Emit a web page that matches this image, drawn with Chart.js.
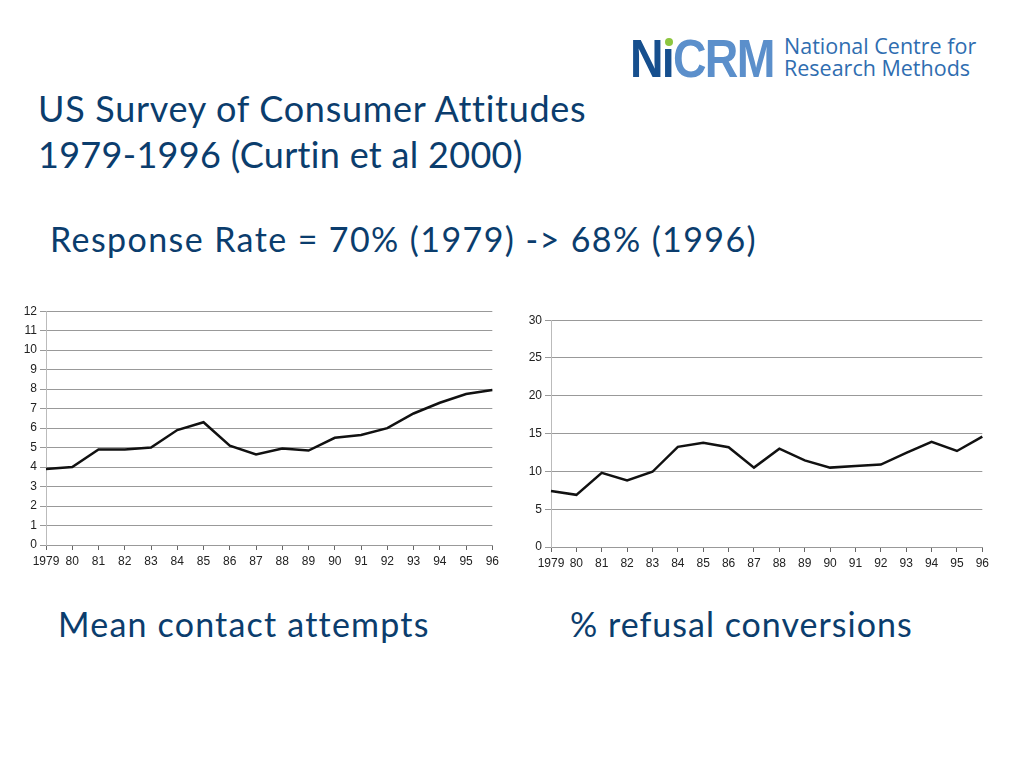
<!DOCTYPE html>
<html>
<head>
<meta charset="utf-8">
<script src="https://cdn.jsdelivr.net/npm/chart.js@4/dist/chart.umd.min.js"></script>
<style>
  html, body { margin: 0; padding: 0; background: #fff; }
  body { width: 1024px; height: 768px; position: relative; overflow: hidden; font-family: Lato, "Open Sans", sans-serif; }
  .txt { position: absolute; color: #0b3d6d; white-space: nowrap; line-height: 1; }
  .box { position: absolute; }
  .logo { position: absolute; left: 630px; top: 31px; width: 380px; height: 60px; }
  .logo .big { position: absolute; left: 0; top: 0; font: bold 54px "Liberation Sans", Arial, sans-serif; letter-spacing: -2px; line-height: 1; transform: scaleX(0.86); transform-origin: 0 0; white-space: nowrap; }
  .logo .small { position: absolute; left: 154px; top: 4px; font: 21.5px "Open Sans", sans-serif; color: #2f6db0; line-height: 22px; white-space: nowrap; }
</style>
</head>
<body>

<div class="logo">
  <div class="big"><span style="color:#164f8e">Nı</span><span style="color:#5b8fcb">CRM</span></div>
  <div style="position:absolute;left:35px;top:7px;width:8px;height:8px;border-radius:50%;background:#8dc63f"></div>
  <div class="small">National Centre for<br>Research Methods</div>
</div>

<div class="txt" style="left:38px;top:90px;font-size:36px;letter-spacing:0.7px">US Survey of Consumer Attitudes</div>
<div class="txt" style="left:38px;top:136px;font-size:36px;letter-spacing:0.3px">1979-1996 (Curtin et al 2000)</div>
<div class="txt" style="left:50px;top:222px;font-size:34px;letter-spacing:1.4px">Response Rate = 70% (1979) -&gt; 68% (1996)</div>
<div class="txt" style="left:58px;top:607px;font-size:34px;letter-spacing:1.2px">Mean contact attempts</div>
<div class="txt" style="left:570px;top:607px;font-size:34px;letter-spacing:1px">% refusal conversions</div>

<div class="box" style="left:20px;top:301px;width:483px;height:274px"><canvas id="left"></canvas></div>
<div class="box" style="left:525px;top:310px;width:468px;height:267px"><canvas id="right"></canvas></div>

<script>
// year labels on both x axes
const years = ['1979', '80', '81', '82', '83', '84', '85', '86', '87', '88', '89', '90', '91', '92', '93', '94', '95', '96'];

// mean number of contact attempts
const meanContacts = [3.9, 4.0, 4.9, 4.9, 5.0, 5.9, 6.3, 5.1, 4.65, 4.95, 4.85, 5.5, 5.65, 6.0, 6.75, 7.3, 7.75, 7.95];

// % refusal conversions
const refusalConversions = [7.4, 6.9, 9.8, 8.8, 9.95, 13.25, 13.8, 13.2, 10.5, 13.0, 11.45, 10.5, 10.7, 10.9, 12.45, 13.9, 12.7, 14.6];

function makeChart(id, values, yMax, yStep) {
  new Chart(document.getElementById(id), {
    type: 'line',
    data: {
      labels: years,
      datasets: [{
        data: values,
        borderColor: '#111',
        borderWidth: 2.5,
        pointRadius: 0,
        tension: 0,
        fill: false
      }]
    },
    options: {
      responsive: true,
      maintainAspectRatio: false,
      animation: false,
      layout: { padding: { top: 10, right: 10, bottom: 0, left: 0 } },
      plugins: { legend: { display: false }, tooltip: { enabled: false } },
      scales: {
        x: {
          afterFit: (s) => { s.height = 30; },
          grid: { drawOnChartArea: false, drawTicks: true, tickLength: 5, color: '#666' },
          border: { display: true, color: '#999' },
          ticks: {
            autoSkip: false, maxRotation: 0, padding: 4,
            color: '#222', font: { family: 'Liberation Sans', size: 12 }
          }
        },
        y: {
          min: 0, max: yMax,
          afterFit: (s) => { s.width = 26; },
          grid: { color: '#999', lineWidth: 1, tickLength: 6 },
          border: { display: true, color: '#bbb' },
          ticks: {
            stepSize: yStep, padding: 3,
            color: '#222', font: { family: 'Liberation Sans', size: 12 }
          }
        }
      }
    }
  });
}

makeChart('left', meanContacts, 12, 1);
makeChart('right', refusalConversions, 30, 5);
</script>
</body>
</html>
